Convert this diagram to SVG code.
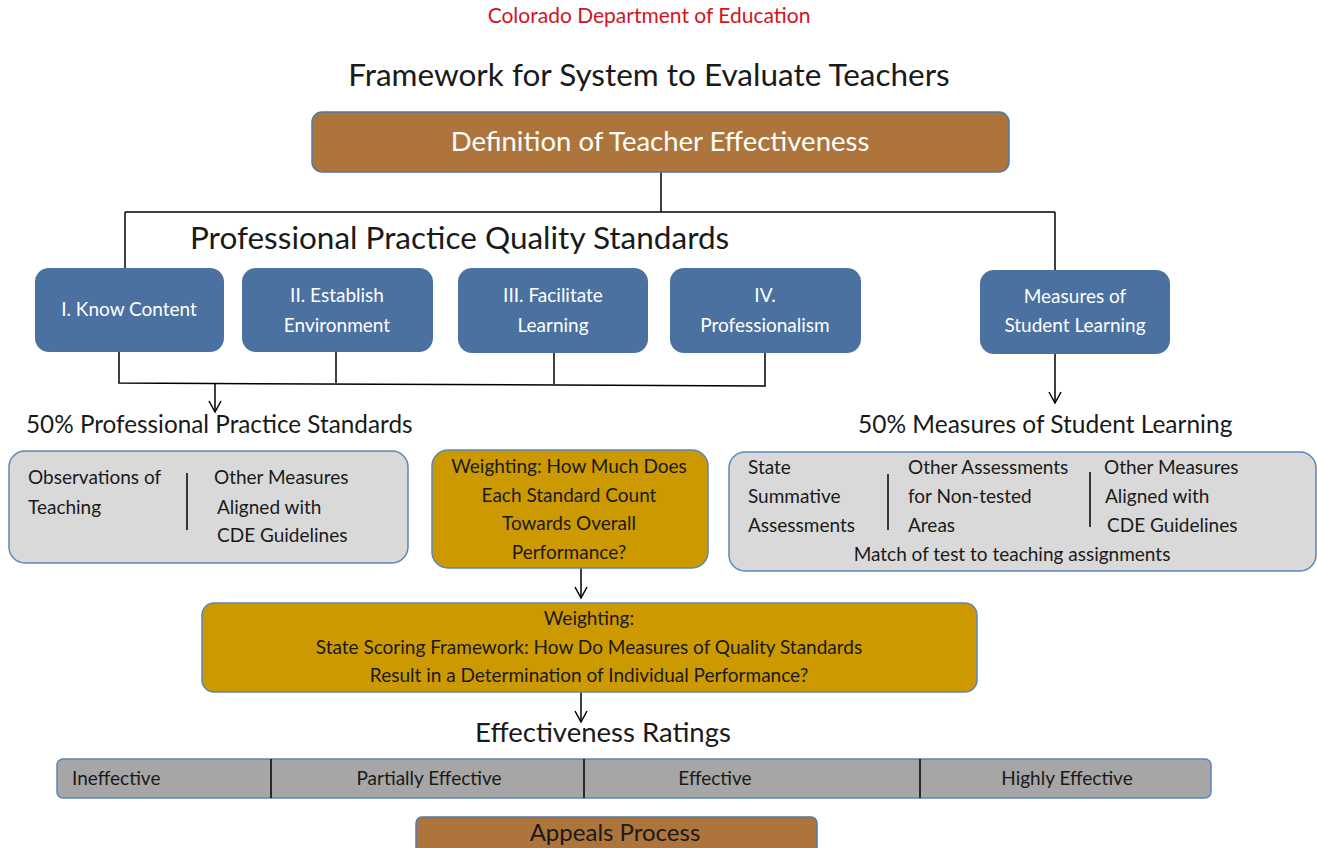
<svg xmlns="http://www.w3.org/2000/svg" width="1317" height="848" viewBox="0 0 1317 848">
<style>
text{font-family:Lato,"Open Sans","Liberation Sans",sans-serif;}
.brown{fill:#ad753b;stroke:#4f79a8;stroke-width:1.5;}
.blue{fill:#4a71a0;stroke:none;}
.grey{fill:#d9d9d9;stroke:#5b87b8;stroke-width:1.5;}
.gold{fill:#cc9900;stroke:#5b87b8;stroke-width:1.5;}
.bar{fill:#a6a6a6;stroke:#5b87b8;stroke-width:1.5;}
.wt{fill:#ffffff;font-size:19px;text-anchor:middle;}
.dt{fill:#1a1a1a;font-size:19px;}
.c{text-anchor:middle;}
.ln{stroke:#000;stroke-width:1.5;fill:none;}
.div{stroke:#000;stroke-width:1.5;}
</style>
<defs>
<marker id="arr" markerWidth="14" markerHeight="14" refX="12" refY="7" orient="auto" markerUnits="userSpaceOnUse" viewBox="0 0 14 14">
<polyline points="1,1 12,7 1,13" fill="none" stroke="#000" stroke-width="1.5"/>
</marker>
</defs>

<text x="649" y="23" class="c" style="font-size:21px;fill:#d2141e">Colorado Department of Education</text>
<text x="649" y="86" class="c" style="font-size:31.5px;fill:#1a1a1a">Framework for System to Evaluate Teachers</text>

<g id="connectors">
<line class="ln" x1="661" y1="172" x2="661" y2="212"/>
<line class="ln" x1="125" y1="212" x2="1055" y2="212"/>
<line class="ln" x1="125" y1="212" x2="125" y2="268"/>
<line class="ln" x1="1055" y1="212" x2="1055" y2="270"/>
<polyline class="ln" points="119,349 119,383 765,386 765,352"/>
<line class="ln" x1="336" y1="352" x2="336" y2="383"/>
<line class="ln" x1="554" y1="352" x2="554" y2="384"/>
<line class="ln" x1="215" y1="383" x2="215" y2="412" marker-end="url(#arr)"/>
<line class="ln" x1="1055" y1="354" x2="1055" y2="403" marker-end="url(#arr)"/>
<line class="ln" x1="581" y1="568" x2="581" y2="598" marker-end="url(#arr)"/>
<line class="ln" x1="581" y1="692" x2="581" y2="722" marker-end="url(#arr)"/>
</g>

<g id="definition">
<rect class="brown" x="312" y="112" width="697" height="60" rx="10"/>
<text x="660" y="151" class="wt" style="font-size:27.5px">Definition of Teacher Effectiveness</text>
</g>

<text x="190" y="249" style="font-size:31.5px;fill:#1a1a1a">Professional Practice Quality Standards</text>

<g id="std1">
<rect class="blue" x="35" y="268" width="189" height="84" rx="14"/>
<text x="129" y="316" class="wt">I. Know Content</text>
</g>
<g id="std2">
<rect class="blue" x="242" y="268" width="191" height="84" rx="14"/>
<text x="337" y="302" class="wt">II. Establish</text>
<text x="337" y="332" class="wt">Environment</text>
</g>
<g id="std3">
<rect class="blue" x="458" y="268" width="190" height="85" rx="14"/>
<text x="553" y="302" class="wt">III. Facilitate</text>
<text x="553" y="332" class="wt">Learning</text>
</g>
<g id="std4">
<rect class="blue" x="670" y="268" width="191" height="85" rx="14"/>
<text x="765" y="302" class="wt">IV.</text>
<text x="765" y="332" class="wt">Professionalism</text>
</g>
<g id="msl">
<rect class="blue" x="980" y="270" width="190" height="84" rx="14"/>
<text x="1075" y="303" class="wt">Measures of</text>
<text x="1075" y="332" class="wt">Student Learning</text>
</g>

<text x="26" y="433" style="font-size:24.3px;fill:#1a1a1a">50% Professional Practice Standards</text>
<text x="858" y="433" style="font-size:24.5px;fill:#1a1a1a">50% Measures of Student Learning</text>

<g id="pps">
<rect class="grey" x="9" y="451" width="399" height="112" rx="16"/>
<text x="28" y="484" class="dt">Observations of</text>
<text x="28" y="514" class="dt">Teaching</text>
<line class="div" x1="187" y1="473" x2="187" y2="530"/>
<text x="214" y="484" class="dt">Other Measures</text>
<text x="217" y="514" class="dt">Aligned with</text>
<text x="217" y="542" class="dt">CDE Guidelines</text>
</g>

<g id="weight1">
<rect class="gold" x="432" y="450" width="276" height="118" rx="16"/>
<text x="569" y="473" class="dt c">Weighting: How Much Does</text>
<text x="569" y="502" class="dt c">Each Standard Count</text>
<text x="569" y="530" class="dt c">Towards Overall</text>
<text x="569" y="559" class="dt c">Performance?</text>
</g>

<g id="msl-box">
<rect class="grey" x="729" y="452" width="587" height="119" rx="16"/>
<text x="748" y="474" class="dt">State</text>
<text x="748" y="503" class="dt">Summative</text>
<text x="748" y="532" class="dt">Assessments</text>
<line class="div" x1="888" y1="474" x2="888" y2="530"/>
<text x="908" y="474" class="dt">Other Assessments</text>
<text x="908" y="503" class="dt">for Non-tested</text>
<text x="908" y="532" class="dt">Areas</text>
<line class="div" x1="1090" y1="472" x2="1090" y2="527"/>
<text x="1104" y="474" class="dt">Other Measures</text>
<text x="1105" y="503" class="dt">Aligned with</text>
<text x="1107" y="532" class="dt">CDE Guidelines</text>
<text x="1012" y="561" class="dt c">Match of test to teaching assignments</text>
</g>

<g id="weight2">
<rect class="gold" x="202" y="603" width="775" height="89" rx="12"/>
<text x="589" y="625" class="dt c">Weighting:</text>
<text x="589" y="654" class="dt c">State Scoring Framework: How Do Measures of Quality Standards</text>
<text x="589" y="682" class="dt c">Result in a Determination of Individual Performance?</text>
</g>

<text x="603" y="742" class="c" style="font-size:27.5px;fill:#1a1a1a">Effectiveness Ratings</text>

<g id="ratings">
<rect class="bar" x="57" y="759" width="1154" height="39" rx="6"/>
<line class="div" x1="271" y1="759" x2="271" y2="798"/>
<line class="div" x1="584" y1="759" x2="584" y2="798"/>
<line class="div" x1="920" y1="759" x2="920" y2="798"/>
<text x="72" y="785" class="dt">Ineffective</text>
<text x="429" y="785" class="dt c">Partially Effective</text>
<text x="715" y="785" class="dt c">Effective</text>
<text x="1067" y="785" class="dt c">Highly Effective</text>
</g>

<g id="appeals">
<rect class="brown" x="416" y="817" width="401" height="44" rx="6"/>
<text x="615" y="841" class="c" style="font-size:24px;fill:#1a1a1a">Appeals Process</text>
</g>
</svg>
